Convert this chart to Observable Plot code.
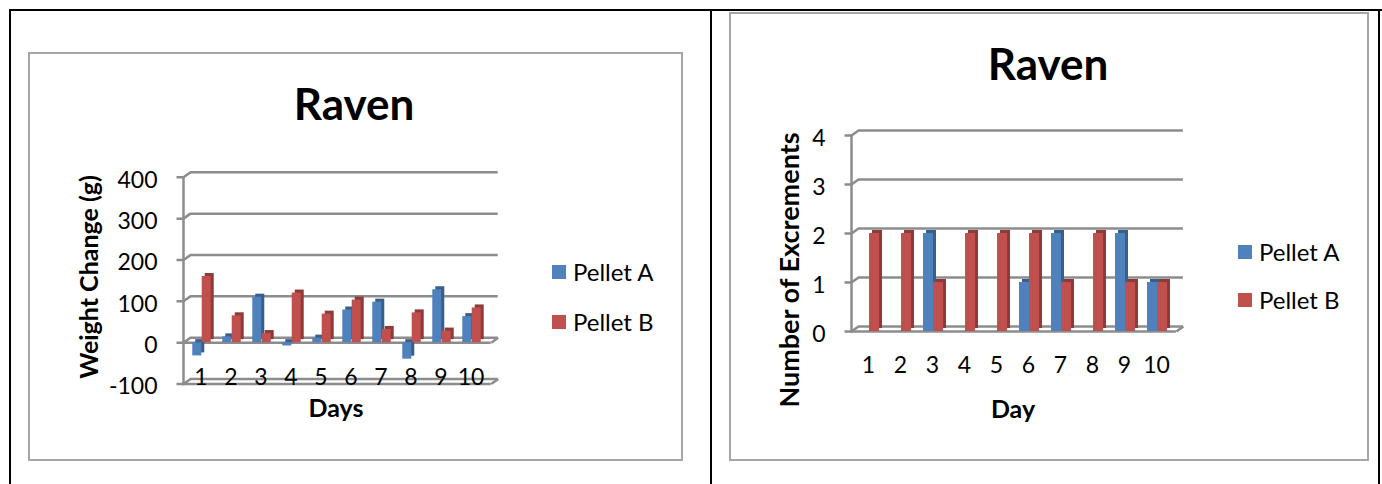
<!DOCTYPE html>
<html>
<head>
<meta charset="utf-8">
<script src="https://cdn.jsdelivr.net/npm/d3@7"></script>
<script src="https://cdn.jsdelivr.net/npm/@observablehq/plot@0.6"></script>
<style>
  body { margin: 0; background: #fff; font-family: Lato, "Open Sans", sans-serif; color: #000; }
  #page { position: relative; width: 1382px; height: 484px; overflow: hidden; background: #fff; }
  .rule { position: absolute; background: #000; }
  .frame { position: absolute; border: 2px solid #a6a6a6; box-sizing: border-box; }
  .chart { position: absolute; }
  .t { position: absolute; white-space: nowrap; transform: translate(-50%, -50%); line-height: 1; }
  .title { font-weight: 700; font-size: 44px; }
  .axt { font-weight: 700; font-size: 25px; }
  .axt.big { font-size: 27px; }
  .rot { transform: translate(-50%, -50%) rotate(-90deg); }
  .leg { position: absolute; font-size: 24px; line-height: 1; display: flex; align-items: center; transform: translateY(-50%); white-space: nowrap; }
  .sw { width: 14px; height: 14px; margin-right: 7px; }
</style>
</head>
<body>
<div id="page">
  <!-- table borders -->
  <div class="rule" style="left:9px;top:9px;width:1373px;height:2px"></div>
  <div class="rule" style="left:9px;top:9px;width:2px;height:475px"></div>
  <div class="rule" style="left:710px;top:9px;width:2px;height:475px"></div>
  <div class="rule" style="left:1378px;top:9px;width:2px;height:475px"></div>

  <!-- weight change chart -->
  <div class="frame" style="left:28px;top:52px;width:655px;height:409px"></div>
  <div class="chart" id="weight" style="left:28px;top:52px"></div>
  <div class="t title" style="left:354px;top:103px">Raven</div>
  <div class="t axt rot" style="left:88px;top:277px">Weight Change (g)</div>
  <div class="t axt" style="left:336px;top:407px">Days</div>
  <div id="legWeight"></div>

  <!-- excrement chart -->
  <div class="frame" style="left:729px;top:12px;width:640px;height:449px"></div>
  <div class="chart" id="excr" style="left:729px;top:12px"></div>
  <div class="t title" style="left:1048px;top:63px">Raven</div>
  <div class="t axt big rot" style="left:788px;top:270px">Number of Excrements</div>
  <div class="t axt" style="left:1013px;top:408px">Day</div>
  <div id="legExcr"></div>
</div>
<script>
// Categories and series
const days = ["1", "2", "3", "4", "5", "6", "7", "8", "9", "10"];
const series = ["Pellet A", "Pellet B"];

// Weight change per day (g)
const weightA = [-32, 14, 110, -8, 11, 79, 98, -40, 128, 63];
const weightB = [160, 65, 22, 120, 69, 103, 32, 72, 28, 84];
const weightTicks = [-100, 0, 100, 200, 300, 400];

// Number of excrements per day
const excrA = [0, 0, 2, 0, 0, 1, 2, 0, 2, 1];
const excrB = [2, 2, 1, 2, 2, 2, 1, 2, 1, 1];
const excrTicks = [0, 1, 2, 3, 4];

const front = {"Pellet A": "#4f81bd", "Pellet B": "#c0504d"};
const side = {"Pellet A": "#385e8c", "Pellet B": "#8e3a38"};
const gridColor = "#8c8c8c";

// Excel-like 3D clustered columns: back wall gridlines, side-wall ticks,
// floors, and columns with a darker extruded side.
function column3d({values, ticks, width, height, margin, padIn, padOut, labelDy}) {
  const [mt, mr, mb, ml] = margin;
  const depthX = 7, depthY = -5;
  const step = (width - ml - mr) / (days.length - padIn + 2 * padOut);
  const bw = step * (1 - padIn);
  const floors = Array.from(new Set([ticks[0], 0]));

  const wallTick = {draw(ctx) { ctx.moveTo(-7, 0); ctx.lineTo(0, 0); ctx.lineTo(depthX, depthY); }};
  const corner = {draw(ctx) { ctx.moveTo(0, 0); ctx.lineTo(depthX, depthY); }};

  const barMarks = series.flatMap((s, j) => {
    const rows = days.map((d, i) => ({day: d, value: values[j][i]}));
    const off = j === 0 ? -bw / 2 : bw / 2;
    return [
      Plot.barY(rows, {x: "day", y: "value", fill: side[s], dx: off + 3, dy: -3}),
      Plot.barY(rows, {x: "day", y: "value", fill: front[s], dx: off})
    ];
  });

  return Plot.plot({
    width, height,
    marginTop: mt, marginRight: mr, marginBottom: mb, marginLeft: ml,
    x: {type: "band", domain: days, paddingInner: padIn, paddingOuter: padOut, axis: null},
    y: {domain: [ticks[0], ticks[ticks.length - 1]], axis: null},
    style: {fontFamily: "Lato, 'Open Sans', sans-serif", overflow: "visible", background: "transparent"},
    marks: [
      Plot.ruleY(ticks, {y: d => d, dx: depthX, dy: depthY, stroke: gridColor, strokeWidth: 2.5}),
      Plot.dot(ticks, {y: d => d, frameAnchor: "left", symbol: wallTick, fill: "none", stroke: gridColor, strokeWidth: 2.5}),
      Plot.frame({anchor: "left", stroke: gridColor, strokeWidth: 2.5}),
      Plot.ruleY(floors, {y: d => d, stroke: gridColor, strokeWidth: 2.5}),
      Plot.dot(floors, {y: d => d, frameAnchor: "right", symbol: corner, fill: "none", stroke: gridColor, strokeWidth: 2.5}),
      ...barMarks,
      Plot.text(ticks, {y: d => d, frameAnchor: "left", dx: -26, dy: 3, textAnchor: "end", lineAnchor: "middle", fontSize: 23, fill: "#000"}),
      Plot.text(days, {x: d => d, frameAnchor: "bottom", lineAnchor: "middle", dx: -1, dy: labelDy, fontSize: 23, fill: "#000"})
    ]
  });
}

document.getElementById("weight").append(column3d({
  values: [weightA, weightB], ticks: weightTicks,
  width: 654, height: 408, margin: [124.8, 191.3, 76.5, 155],
  padIn: 0.69, padOut: 0.4, labelDy: -6
}));

document.getElementById("excr").append(column3d({
  values: [excrA, excrB], ticks: excrTicks,
  width: 639, height: 448, margin: [123, 192.1, 129, 122],
  padIn: 0.69, padOut: 0.37, labelDy: 34
}));

function legend(el, left, tops) {
  series.forEach((s, i) => {
    const row = document.createElement("div");
    row.className = "leg";
    row.style.left = left + "px";
    row.style.top = tops[i] + "px";
    const sw = document.createElement("div");
    sw.className = "sw";
    sw.style.background = front[s];
    row.append(sw, document.createTextNode(s));
    el.append(row);
  });
}
legend(document.getElementById("legWeight"), 552, [272, 322]);
legend(document.getElementById("legExcr"), 1238, [252, 300]);
</script>
</body>
</html>
